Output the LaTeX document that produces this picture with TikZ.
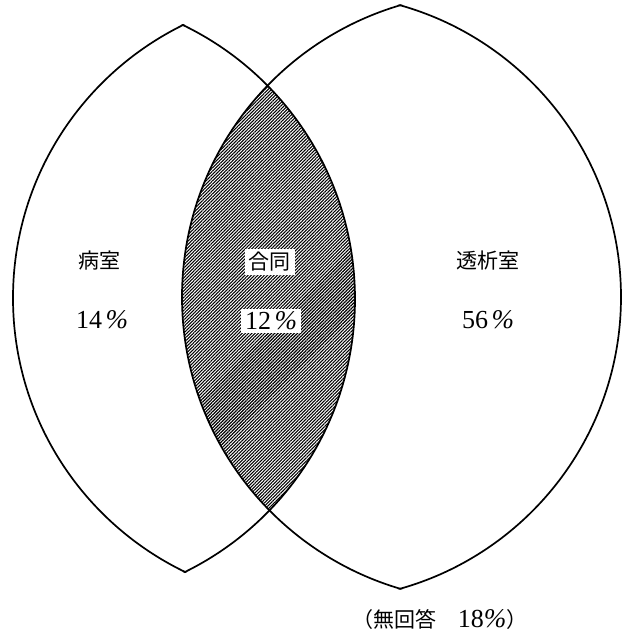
\documentclass[tikz,border=0pt]{standalone}
\usepackage{fontspec}
\setmainfont{Liberation Serif}
\newfontfamily\cjk{Noto Sans CJK JP}
\usetikzlibrary{patterns.meta}
\newcommand{\dg}[1]{{\fontsize{13pt}{14pt}\selectfont #1}}
\newcommand{\pc}{{\fontsize{13.5pt}{14pt}\selectfont\itshape \%}}
\tikzset{
  outline/.style={draw=black, line width=0.85pt},
  hatch/.style={pattern={Lines[angle=45,distance=1.15pt,line width=0.55pt]}, pattern color=black},
  label/.style={font=\fontsize{10.5pt}{12pt}\selectfont, inner sep=0pt},
  boxed/.style={label, fill=white, inner xsep=2pt, inner ysep=1.5pt}
}
\begin{document}
\begin{tikzpicture}[x=0.5pt,y=0.5pt]
\useasboundingbox (0,0) rectangle (626,634);
% hatched overlap
\begin{scope}
  \clip (51,335) circle[radius=304];
  \fill[hatch] (486,337) circle[radius=304];
\end{scope}
% left lens outline
\begin{scope}
  \clip (51,335) circle[radius=305];
  \draw[outline] (317,336) circle[radius=304];
\end{scope}
\begin{scope}
  \clip (317,336) circle[radius=305];
  \draw[outline] (51,335) circle[radius=304];
\end{scope}
% right lens outline
\begin{scope}
  \clip (318,337) circle[radius=304];
  \draw[outline] (486,337) circle[radius=304];
\end{scope}
\begin{scope}
  \clip (486,337) circle[radius=305];
  \draw[outline] (318,337) circle[radius=303];
\end{scope}
% labels
\node[label] (byoshitsu) at (99,373) {\cjk 病室};
\node[label] (byopct) at (102,314) {\dg{14}\,\pc};
\node[boxed] (godo) at (270,372) {\cjk 合同};
\node[boxed] (godopct) at (271,313) {\dg{12}\,\pc};
\node[label] (toseki) at (488,373) {\cjk 透析室};
\node[label] (tosekipct) at (488,314) {\dg{56}\,\pc};
\node[label] (mukaito) at (440,14) {{\cjk （無回答}\hspace{1em}\dg{18}\pc{\cjk ）}};
\end{tikzpicture}
\end{document}
